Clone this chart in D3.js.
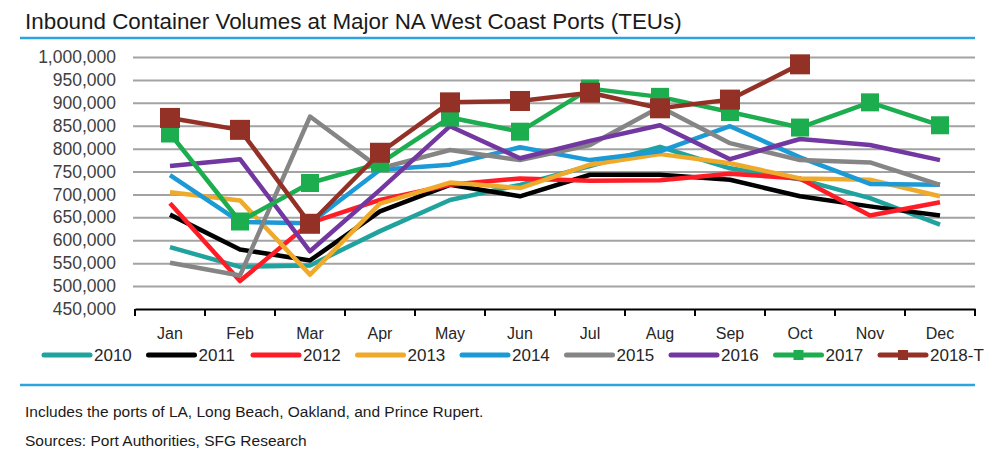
<!DOCTYPE html>
<html>
<head>
<meta charset="utf-8">
<script src="https://cdn.jsdelivr.net/npm/d3@7/dist/d3.min.js"></script>
<style>
    body { margin: 0; background: #fff; }
    svg { display: block; font-family: "Liberation Sans", Arial, sans-serif; }
</style>
</head>
<body>
<script>
var months = ["Jan", "Feb", "Mar", "Apr", "May", "Jun", "Jul", "Aug", "Sep", "Oct", "Nov", "Dec"];
var yTicks = [450000, 500000, 550000, 600000, 650000, 700000, 750000, 800000, 850000, 900000, 950000, 1000000];

var v2010 = [585000, 542000, 545000, 620000, 688000, 721000, 762000, 804000, 757000, 733000, 692000, 634000];
var v2011 = [656000, 580000, 556000, 663000, 721000, 696000, 743000, 743000, 732000, 696000, 674000, 654000];
var v2012 = [681000, 511000, 638000, 688000, 721000, 735000, 730000, 731000, 745000, 735000, 654000, 683000];
var v2013 = [705000, 687000, 525000, 680000, 726000, 714000, 765000, 788000, 768000, 735000, 732000, 696000];
var v2014 = [742000, 640000, 637000, 754000, 765000, 803000, 775000, 794000, 849000, 781000, 723000, 721000];
var v2015 = [551000, 523000, 870000, 757000, 797000, 775000, 808000, 891000, 812000, 775000, 770000, 721000];
var v2016 = [762000, 777000, 576000, 710000, 849000, 779000, 817000, 851000, 777000, 821000, 808000, 775000];
var v2017 = [833000, 641000, 725000, 768000, 868000, 837000, 931000, 913000, 880000, 846000, 901000, 851000];
var v2018 = [867000, 841000, 636000, 791000, 901000, 904000, 922000, 888000, 907000, 984000];

var notes = ["Includes the ports of LA, Long Beach, Oakland, and Prince Rupert.",
    "Sources: Port Authorities, SFG Research"];

(function () {
    var series = [
        { name: "2010", values: v2010, color: "#20a39e" },
        { name: "2011", values: v2011, color: "#000000" },
        { name: "2012", values: v2012, color: "#fe1d26" },
        { name: "2013", values: v2013, color: "#efaa2b" },
        { name: "2014", values: v2014, color: "#1c9ad6" },
        { name: "2015", values: v2015, color: "#858585" },
        { name: "2016", values: v2016, color: "#7337a1" },
        { name: "2017", values: v2017, color: "#1cad4f", marker: 18 },
        { name: "2018-T", values: v2018, color: "#943127", marker: 20 }
    ];

    var width = 1000,
        height = 465,
        plotLeft = 135,
        plotRight = 975,
        plotTop = 57,
        plotBottom = 309;

    var svg = d3.select("body").append("svg")
        .attr("width", width)
        .attr("height", height);

    // title + rules
    svg.append("text")
        .attr("x", 25)
        .attr("y", 29)
        .attr("font-size", 22.4)
        .attr("fill", "#1a1a1a")
        .text("Inbound Container Volumes at Major NA West Coast Ports (TEUs)");

    svg.selectAll(".rule")
        .data([38, 385])
        .enter().append("line")
        .attr("class", "rule")
        .attr("x1", 20).attr("x2", plotRight)
        .attr("y1", function (d) { return d; })
        .attr("y2", function (d) { return d; })
        .attr("stroke", "#2ea4df")
        .attr("stroke-width", 2.5);

    var x = d3.scaleBand()
        .domain(months)
        .range([plotLeft, plotRight]);

    var y = d3.scaleLinear()
        .domain([450000, 1000000])
        .range([plotBottom, plotTop]);

    // grid
    svg.append("g")
        .attr("transform", "translate(133,0)")
        .call(d3.axisLeft(y)
            .tickValues(yTicks.slice(1))
            .tickSize(-(plotRight - 133))
            .tickFormat(""))
        .call(function (g) {
            g.select(".domain").remove();
            g.selectAll("line").attr("stroke", "#a3a3a3").attr("stroke-width", 2);
        });

    // y labels
    svg.append("g")
        .attr("transform", "translate(116,0)")
        .call(d3.axisLeft(y)
            .tickValues(yTicks)
            .tickSize(0)
            .tickPadding(0)
            .tickFormat(d3.format(",")))
        .call(function (g) {
            g.select(".domain").remove();
            g.selectAll("text")
                .attr("font-size", 17.5)
                .attr("font-family", "Liberation Sans, Arial, sans-serif")
                .attr("fill", "#404040");
        });

    // x axis
    var xAxis = svg.append("g")
        .attr("transform", "translate(0," + plotBottom + ")")
        .call(d3.axisBottom(x)
            .tickSize(0)
            .tickPadding(19))
        .call(function (g) {
            g.select(".domain").attr("stroke", "#000").attr("stroke-width", 2);
            g.selectAll("text")
                .attr("font-size", 16)
                .attr("font-family", "Liberation Sans, Arial, sans-serif")
                .attr("fill", "#262626");
        });

    xAxis.selectAll(".bound")
        .data(months.map(function (m) { return x(m); }).concat([plotRight]))
        .enter().append("line")
        .attr("class", "bound")
        .attr("x1", function (d) { return d; })
        .attr("x2", function (d) { return d; })
        .attr("y1", 0)
        .attr("y2", 7)
        .attr("stroke", "#000")
        .attr("stroke-width", 2);

    // lines
    var line = d3.line()
        .x(function (d, i) { return x(months[i]) + x.bandwidth() / 2; })
        .y(function (d) { return y(d); });

    var plot = svg.append("g");

    series.forEach(function (s) {
        plot.append("path")
            .datum(s.values)
            .attr("fill", "none")
            .attr("stroke", s.color)
            .attr("stroke-width", 4.5)
            .attr("stroke-linejoin", "round")
            .attr("d", line);
        if (s.marker) {
            plot.selectAll(null)
                .data(s.values)
                .enter().append("rect")
                .attr("x", function (d, i) { return x(months[i]) + x.bandwidth() / 2 - s.marker / 2; })
                .attr("y", function (d) { return y(d) - s.marker / 2; })
                .attr("width", s.marker)
                .attr("height", s.marker)
                .attr("fill", s.color);
        }
    });

    // legend
    var legend = svg.append("g")
        .attr("transform", "translate(42,355)");

    var item = legend.selectAll("g")
        .data(series)
        .enter().append("g")
        .attr("transform", function (d, i) { return "translate(" + (i * 104.5) + ",0)"; });

    item.append("line")
        .attr("x1", 2).attr("x2", 48)
        .attr("y1", 0).attr("y2", 0)
        .attr("stroke", function (d) { return d.color; })
        .attr("stroke-width", 5)
        .attr("stroke-linecap", "round");

    item.filter(function (d) { return d.marker; })
        .append("rect")
        .attr("x", 20).attr("y", -5)
        .attr("width", 10).attr("height", 10)
        .attr("fill", function (d) { return d.color; });

    item.append("text")
        .attr("x", 52)
        .attr("y", 6)
        .attr("font-size", 17)
        .attr("fill", "#262626")
        .text(function (d) { return d.name; });

    // notes
    svg.selectAll(".note")
        .data(notes)
        .enter().append("text")
        .attr("class", "note")
        .attr("x", 25)
        .attr("y", function (d, i) { return 417 + i * 29; })
        .attr("font-size", 15.5)
        .attr("fill", "#1a1a1a")
        .text(function (d) { return d; });
}());
</script>
</body>
</html>
